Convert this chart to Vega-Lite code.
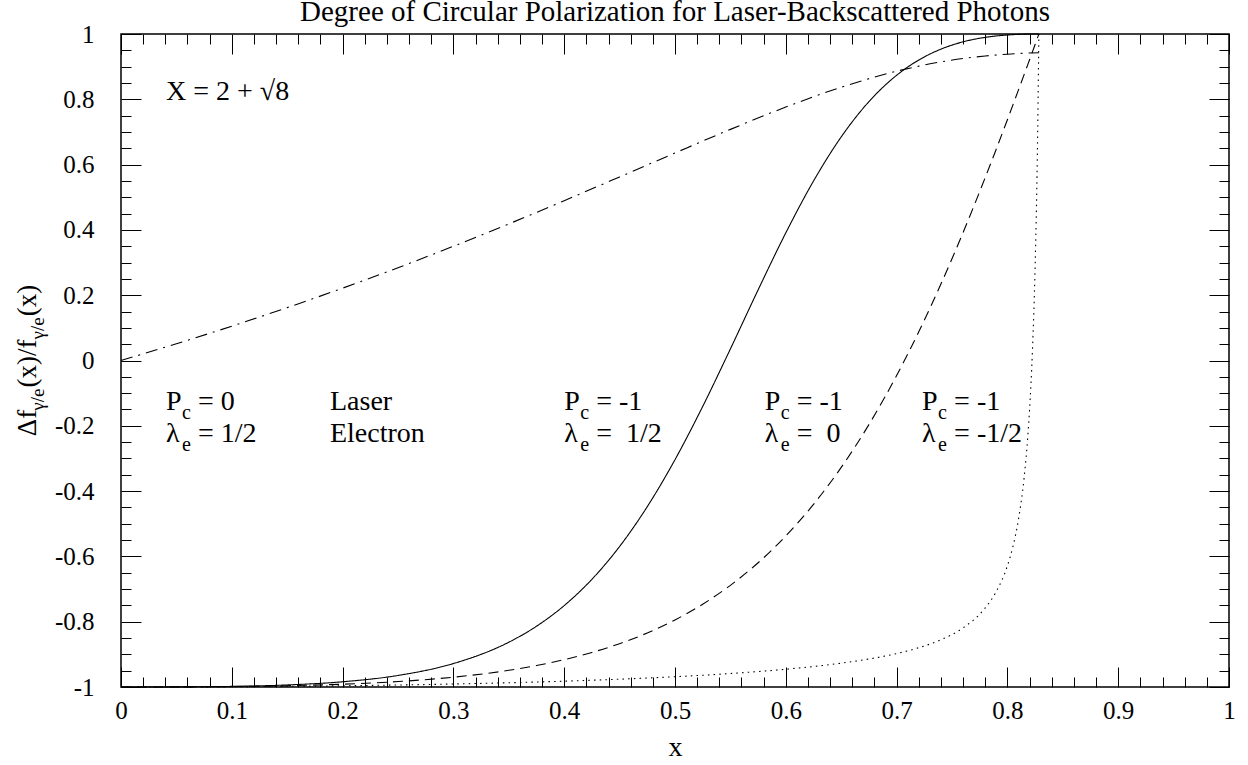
{
  "$schema": "https://vega.github.io/schema/vega-lite/v6.json",
  "width": 1108,
  "height": 653,
  "autosize": {"type": "none"},
  "padding": {"left": 121, "top": 34, "right": 19, "bottom": 78},
  "background": "white",
  "config": {
    "view": {"stroke": "black", "strokeWidth": 1.5},
    "font": "serif",
    "axis": {"grid": false, "domain": false, "tickColor": "black", "tickWidth": 1, "labelColor": "black", "labelFont": "serif", "labelFontSize": 25, "labelFlush": false, "labelOverlap": false, "labelBound": false}
  },
  "title": {"text": "Degree of Circular Polarization for Laser-Backscattered Photons", "font": "serif", "fontSize": 29, "fontWeight": "normal", "color": "black", "anchor": "middle", "frame": "group", "baseline": "alphabetic", "offset": -28},
  "datasets": {
    "curves": [
      {"c": "solid", "x": 0, "y": -1}, {"c": "solid", "x": 0.05, "y": -0.9997}, {"c": "solid", "x": 0.1, "y": -0.9981}, {"c": "solid", "x": 0.15, "y": -0.9937}, {"c": "solid", "x": 0.2, "y": -0.984}, {"c": "solid", "x": 0.25, "y": -0.9646}, {"c": "solid", "x": 0.3, "y": -0.9282}, {"c": "solid", "x": 0.35, "y": -0.8628}, {"c": "solid", "x": 0.375, "y": -0.8139}, {"c": "solid", "x": 0.4, "y": -0.7506}, {"c": "solid", "x": 0.425, "y": -0.6701}, {"c": "solid", "x": 0.45, "y": -0.5696}, {"c": "solid", "x": 0.475, "y": -0.4475}, {"c": "solid", "x": 0.5, "y": -0.3037}, {"c": "solid", "x": 0.525, "y": -0.1407}, {"c": "solid", "x": 0.55, "y": 0.0355}, {"c": "solid", "x": 0.575, "y": 0.2162}, {"c": "solid", "x": 0.6, "y": 0.3909}, {"c": "solid", "x": 0.625, "y": 0.5496}, {"c": "solid", "x": 0.65, "y": 0.6848}, {"c": "solid", "x": 0.675, "y": 0.7928}, {"c": "solid", "x": 0.7, "y": 0.8735}, {"c": "solid", "x": 0.72, "y": 0.9203}, {"c": "solid", "x": 0.74, "y": 0.9536}, {"c": "solid", "x": 0.76, "y": 0.976}, {"c": "solid", "x": 0.78, "y": 0.9897}, {"c": "solid", "x": 0.79, "y": 0.994}, {"c": "solid", "x": 0.8, "y": 0.997}, {"c": "solid", "x": 0.81, "y": 0.9988}, {"c": "solid", "x": 0.82, "y": 0.9998}, {"c": "solid", "x": 0.8284, "y": 1},
      {"c": "dashed", "x": 0, "y": -1}, {"c": "dashed", "x": 0.05, "y": -0.9997}, {"c": "dashed", "x": 0.1, "y": -0.9986}, {"c": "dashed", "x": 0.15, "y": -0.9961}, {"c": "dashed", "x": 0.2, "y": -0.9914}, {"c": "dashed", "x": 0.25, "y": -0.9833}, {"c": "dashed", "x": 0.3, "y": -0.9699}, {"c": "dashed", "x": 0.35, "y": -0.9488}, {"c": "dashed", "x": 0.375, "y": -0.9342}, {"c": "dashed", "x": 0.4, "y": -0.9163}, {"c": "dashed", "x": 0.425, "y": -0.8942}, {"c": "dashed", "x": 0.45, "y": -0.8673}, {"c": "dashed", "x": 0.475, "y": -0.8344}, {"c": "dashed", "x": 0.5, "y": -0.7946}, {"c": "dashed", "x": 0.525, "y": -0.7464}, {"c": "dashed", "x": 0.55, "y": -0.6886}, {"c": "dashed", "x": 0.575, "y": -0.6195}, {"c": "dashed", "x": 0.6, "y": -0.5374}, {"c": "dashed", "x": 0.625, "y": -0.4406}, {"c": "dashed", "x": 0.65, "y": -0.3274}, {"c": "dashed", "x": 0.675, "y": -0.1963}, {"c": "dashed", "x": 0.7, "y": -0.0462}, {"c": "dashed", "x": 0.72, "y": 0.0878}, {"c": "dashed", "x": 0.74, "y": 0.2341}, {"c": "dashed", "x": 0.76, "y": 0.392}, {"c": "dashed", "x": 0.78, "y": 0.5604}, {"c": "dashed", "x": 0.79, "y": 0.648}, {"c": "dashed", "x": 0.8, "y": 0.7375}, {"c": "dashed", "x": 0.805, "y": 0.7829}, {"c": "dashed", "x": 0.81, "y": 0.8287}, {"c": "dashed", "x": 0.815, "y": 0.8748}, {"c": "dashed", "x": 0.8175, "y": 0.898}, {"c": "dashed", "x": 0.82, "y": 0.9212}, {"c": "dashed", "x": 0.8225, "y": 0.9445}, {"c": "dashed", "x": 0.825, "y": 0.9679}, {"c": "dashed", "x": 0.827, "y": 0.9866}, {"c": "dashed", "x": 0.8284, "y": 1},
      {"c": "dotted", "x": 0, "y": -1}, {"c": "dotted", "x": 0.05, "y": -0.9998}, {"c": "dotted", "x": 0.1, "y": -0.9991}, {"c": "dotted", "x": 0.15, "y": -0.9979}, {"c": "dotted", "x": 0.2, "y": -0.9962}, {"c": "dotted", "x": 0.25, "y": -0.9939}, {"c": "dotted", "x": 0.3, "y": -0.9908}, {"c": "dotted", "x": 0.35, "y": -0.987}, {"c": "dotted", "x": 0.4, "y": -0.9822}, {"c": "dotted", "x": 0.45, "y": -0.9761}, {"c": "dotted", "x": 0.5, "y": -0.9685}, {"c": "dotted", "x": 0.55, "y": -0.9587}, {"c": "dotted", "x": 0.6, "y": -0.9456}, {"c": "dotted", "x": 0.65, "y": -0.927}, {"c": "dotted", "x": 0.675, "y": -0.9143}, {"c": "dotted", "x": 0.7, "y": -0.8976}, {"c": "dotted", "x": 0.72, "y": -0.8797}, {"c": "dotted", "x": 0.74, "y": -0.8553}, {"c": "dotted", "x": 0.76, "y": -0.8189}, {"c": "dotted", "x": 0.78, "y": -0.7577}, {"c": "dotted", "x": 0.79, "y": -0.7074}, {"c": "dotted", "x": 0.8, "y": -0.6287}, {"c": "dotted", "x": 0.805, "y": -0.5696}, {"c": "dotted", "x": 0.81, "y": -0.4868}, {"c": "dotted", "x": 0.815, "y": -0.3616}, {"c": "dotted", "x": 0.8175, "y": -0.2715}, {"c": "dotted", "x": 0.82, "y": -0.1503}, {"c": "dotted", "x": 0.8225, "y": 0.0216}, {"c": "dotted", "x": 0.825, "y": 0.2844}, {"c": "dotted", "x": 0.827, "y": 0.6219}, {"c": "dotted", "x": 0.8284, "y": 1},
      {"c": "dashdot", "x": 0, "y": 0}, {"c": "dashdot", "x": 0.05, "y": 0.0513}, {"c": "dashdot", "x": 0.1, "y": 0.1052}, {"c": "dashdot", "x": 0.15, "y": 0.1619}, {"c": "dashdot", "x": 0.2, "y": 0.2216}, {"c": "dashdot", "x": 0.25, "y": 0.2842}, {"c": "dashdot", "x": 0.3, "y": 0.3499}, {"c": "dashdot", "x": 0.35, "y": 0.4184}, {"c": "dashdot", "x": 0.4, "y": 0.4894}, {"c": "dashdot", "x": 0.45, "y": 0.5622}, {"c": "dashdot", "x": 0.5, "y": 0.6356}, {"c": "dashdot", "x": 0.55, "y": 0.7079}, {"c": "dashdot", "x": 0.6, "y": 0.7762}, {"c": "dashdot", "x": 0.65, "y": 0.8369}, {"c": "dashdot", "x": 0.7, "y": 0.886}, {"c": "dashdot", "x": 0.72, "y": 0.9015}, {"c": "dashdot", "x": 0.74, "y": 0.9145}, {"c": "dashdot", "x": 0.76, "y": 0.9249}, {"c": "dashdot", "x": 0.78, "y": 0.9327}, {"c": "dashdot", "x": 0.8, "y": 0.9382}, {"c": "dashdot", "x": 0.81, "y": 0.9402}, {"c": "dashdot", "x": 0.82, "y": 0.9418}, {"c": "dashdot", "x": 0.8284, "y": 0.9428}
    ],
    "ann": [
      {"x": 0.0406, "y": 0.798, "m": "X = 2 + √8", "s": "", "r": ""},
      {"x": 0.0406, "y": -0.1516, "m": "P", "s": "c", "r": "= 0"},
      {"x": 0.0406, "y": -0.2496, "m": "λ", "s": "e", "r": "= 1/2"},
      {"x": 0.1886, "y": -0.1516, "m": "Laser", "s": "", "r": ""},
      {"x": 0.1886, "y": -0.2496, "m": "Electron", "s": "", "r": ""},
      {"x": 0.4, "y": -0.1516, "m": "P", "s": "c", "r": "= -1"},
      {"x": 0.4, "y": -0.2496, "m": "λ", "s": "e", "r": "= \u00a01/2"},
      {"x": 0.581, "y": -0.1516, "m": "P", "s": "c", "r": "= -1"},
      {"x": 0.581, "y": -0.2496, "m": "λ", "s": "e", "r": "= \u00a00"},
      {"x": 0.723, "y": -0.1516, "m": "P", "s": "c", "r": "= -1"},
      {"x": 0.723, "y": -0.2496, "m": "λ", "s": "e", "r": "= -1/2"}
    ],
    "ytitle": [
      {"x": -0.0767, "y": -0.2319, "t": "Δf", "k": "m"},
      {"x": -0.0767, "y": -0.1538, "t": "γ/e", "k": "s"},
      {"x": -0.0767, "y": -0.0827, "t": "(x)/f", "k": "m"},
      {"x": -0.0767, "y": 0.0643, "t": "γ/e", "k": "s"},
      {"x": -0.0767, "y": 0.1354, "t": "(x)", "k": "m"}
    ]
  },
  "resolve": {"axis": {"x": "independent", "y": "independent"}},
  "layer": [
    {
      "data": {"name": "curves"},
      "mark": {"type": "line", "color": "black", "strokeWidth": 1.1, "interpolate": "monotone"},
      "encoding": {
        "x": {"field": "x", "type": "quantitative", "scale": {"domain": [0, 1], "nice": false, "zero": false},
          "axis": {"orient": "bottom", "values": [0,0.02,0.04,0.06,0.08,0.1,0.12,0.14,0.16,0.18,0.2,0.22,0.24,0.26,0.28,0.3,0.32,0.34,0.36,0.38,0.4,0.42,0.44,0.46,0.48,0.5,0.52,0.54,0.56,0.58,0.6,0.62,0.64,0.66,0.68,0.7,0.72,0.74,0.76,0.78,0.8,0.82,0.84,0.86,0.88,0.9,0.92,0.94,0.96,0.98,1],
            "tickSize": {"condition": {"test": "abs(datum.value*10-round(datum.value*10))<0.001", "value": -20}, "value": -10},
            "labelExpr": "abs(datum.value*10-round(datum.value*10))<0.001 ? ''+round(datum.value*10)/10 : ''",
            "labelPadding": 31, "labelBaseline": "top", "labelAlign": "center",
            "title": "x", "titleFont": "serif", "titleFontSize": 28, "titleFontWeight": "normal", "titleColor": "black", "titleX": 554, "titleY": 68, "titleBaseline": "alphabetic", "titleAlign": "center"}},
        "y": {"field": "y", "type": "quantitative", "scale": {"domain": [-1, 1], "nice": false, "zero": false},
          "axis": {"orient": "left", "values": [-1,-0.95,-0.9,-0.85,-0.8,-0.75,-0.7,-0.65,-0.6,-0.55,-0.5,-0.45,-0.4,-0.35,-0.3,-0.25,-0.2,-0.15,-0.1,-0.05,0,0.05,0.1,0.15,0.2,0.25,0.3,0.35,0.4,0.45,0.5,0.55,0.6,0.65,0.7,0.75,0.8,0.85,0.9,0.95,1],
            "tickSize": {"condition": {"test": "abs(datum.value*5-round(datum.value*5))<0.001", "value": -20}, "value": -10},
            "labelExpr": "abs(datum.value*5-round(datum.value*5))<0.001 ? ''+round(datum.value*5)/5 : ''",
            "labelPadding": 47, "labelAlign": "right", "labelBaseline": "middle", "title": null}},
        "strokeDash": {"field": "c", "type": "nominal", "scale": {"domain": ["solid", "dashed", "dotted", "dashdot"], "range": [[1, 0], [10, 6], [1.5, 4.2], [12, 6, 2, 6]]}, "legend": null}
      }
    },
    {
      "data": {"name": "curves"},
      "mark": {"type": "point", "opacity": 0},
      "encoding": {
        "x": {"field": "x", "type": "quantitative", "scale": {"domain": [0, 1], "nice": false, "zero": false},
          "axis": {"orient": "top", "labels": false, "title": null, "values": [0,0.02,0.04,0.06,0.08,0.1,0.12,0.14,0.16,0.18,0.2,0.22,0.24,0.26,0.28,0.3,0.32,0.34,0.36,0.38,0.4,0.42,0.44,0.46,0.48,0.5,0.52,0.54,0.56,0.58,0.6,0.62,0.64,0.66,0.68,0.7,0.72,0.74,0.76,0.78,0.8,0.82,0.84,0.86,0.88,0.9,0.92,0.94,0.96,0.98,1],
            "tickSize": {"condition": {"test": "abs(datum.value*10-round(datum.value*10))<0.001", "value": -20}, "value": -10}}},
        "y": {"field": "y", "type": "quantitative", "scale": {"domain": [-1, 1], "nice": false, "zero": false},
          "axis": {"orient": "right", "labels": false, "title": null, "values": [-1,-0.95,-0.9,-0.85,-0.8,-0.75,-0.7,-0.65,-0.6,-0.55,-0.5,-0.45,-0.4,-0.35,-0.3,-0.25,-0.2,-0.15,-0.1,-0.05,0,0.05,0.1,0.15,0.2,0.25,0.3,0.35,0.4,0.45,0.5,0.55,0.6,0.65,0.7,0.75,0.8,0.85,0.9,0.95,1],
            "tickSize": {"condition": {"test": "abs(datum.value*5-round(datum.value*5))<0.001", "value": -20}, "value": -10}}}
      }
    },
    {
      "mark": {"type": "rule", "color": "black", "strokeWidth": 1.3, "strokeDash": [2, 25.5], "strokeDashOffset": 20},
      "encoding": {"y": {"datum": 0, "type": "quantitative", "scale": {"domain": [-1, 1], "nice": false, "zero": false}, "axis": null}}
    },
    {
      "data": {"name": "ann"},
      "mark": {"type": "text", "align": "left", "baseline": "alphabetic", "fontSize": 28, "font": "serif", "color": "black"},
      "encoding": {
        "x": {"field": "x", "type": "quantitative", "scale": {"domain": [0, 1], "nice": false, "zero": false}, "axis": null},
        "y": {"field": "y", "type": "quantitative", "scale": {"domain": [-1, 1], "nice": false, "zero": false}, "axis": null},
        "text": {"field": "m"}
      }
    },
    {
      "data": {"name": "ann"},
      "mark": {"type": "text", "align": "left", "baseline": "alphabetic", "fontSize": 20, "font": "serif", "color": "black", "dx": 16, "dy": 9},
      "encoding": {
        "x": {"field": "x", "type": "quantitative", "scale": {"domain": [0, 1], "nice": false, "zero": false}, "axis": null},
        "y": {"field": "y", "type": "quantitative", "scale": {"domain": [-1, 1], "nice": false, "zero": false}, "axis": null},
        "text": {"field": "s"}
      }
    },
    {
      "data": {"name": "ann"},
      "mark": {"type": "text", "align": "left", "baseline": "alphabetic", "fontSize": 28, "font": "serif", "color": "black", "dx": 32},
      "encoding": {
        "x": {"field": "x", "type": "quantitative", "scale": {"domain": [0, 1], "nice": false, "zero": false}, "axis": null},
        "y": {"field": "y", "type": "quantitative", "scale": {"domain": [-1, 1], "nice": false, "zero": false}, "axis": null},
        "text": {"field": "r"}
      }
    },
    {
      "data": {"name": "ytitle"},
      "transform": [{"filter": "datum.k == 'm'"}],
      "mark": {"type": "text", "align": "left", "baseline": "alphabetic", "fontSize": 27, "font": "serif", "color": "black", "angle": 270},
      "encoding": {
        "x": {"field": "x", "type": "quantitative", "scale": {"domain": [0, 1], "nice": false, "zero": false}, "axis": null},
        "y": {"field": "y", "type": "quantitative", "scale": {"domain": [-1, 1], "nice": false, "zero": false}, "axis": null},
        "text": {"field": "t"}
      }
    },
    {
      "data": {"name": "ytitle"},
      "transform": [{"filter": "datum.k == 's'"}],
      "mark": {"type": "text", "align": "left", "baseline": "alphabetic", "fontSize": 19, "font": "serif", "color": "black", "angle": 270, "dy": 8},
      "encoding": {
        "x": {"field": "x", "type": "quantitative", "scale": {"domain": [0, 1], "nice": false, "zero": false}, "axis": null},
        "y": {"field": "y", "type": "quantitative", "scale": {"domain": [-1, 1], "nice": false, "zero": false}, "axis": null},
        "text": {"field": "t"}
      }
    }
  ]
}
